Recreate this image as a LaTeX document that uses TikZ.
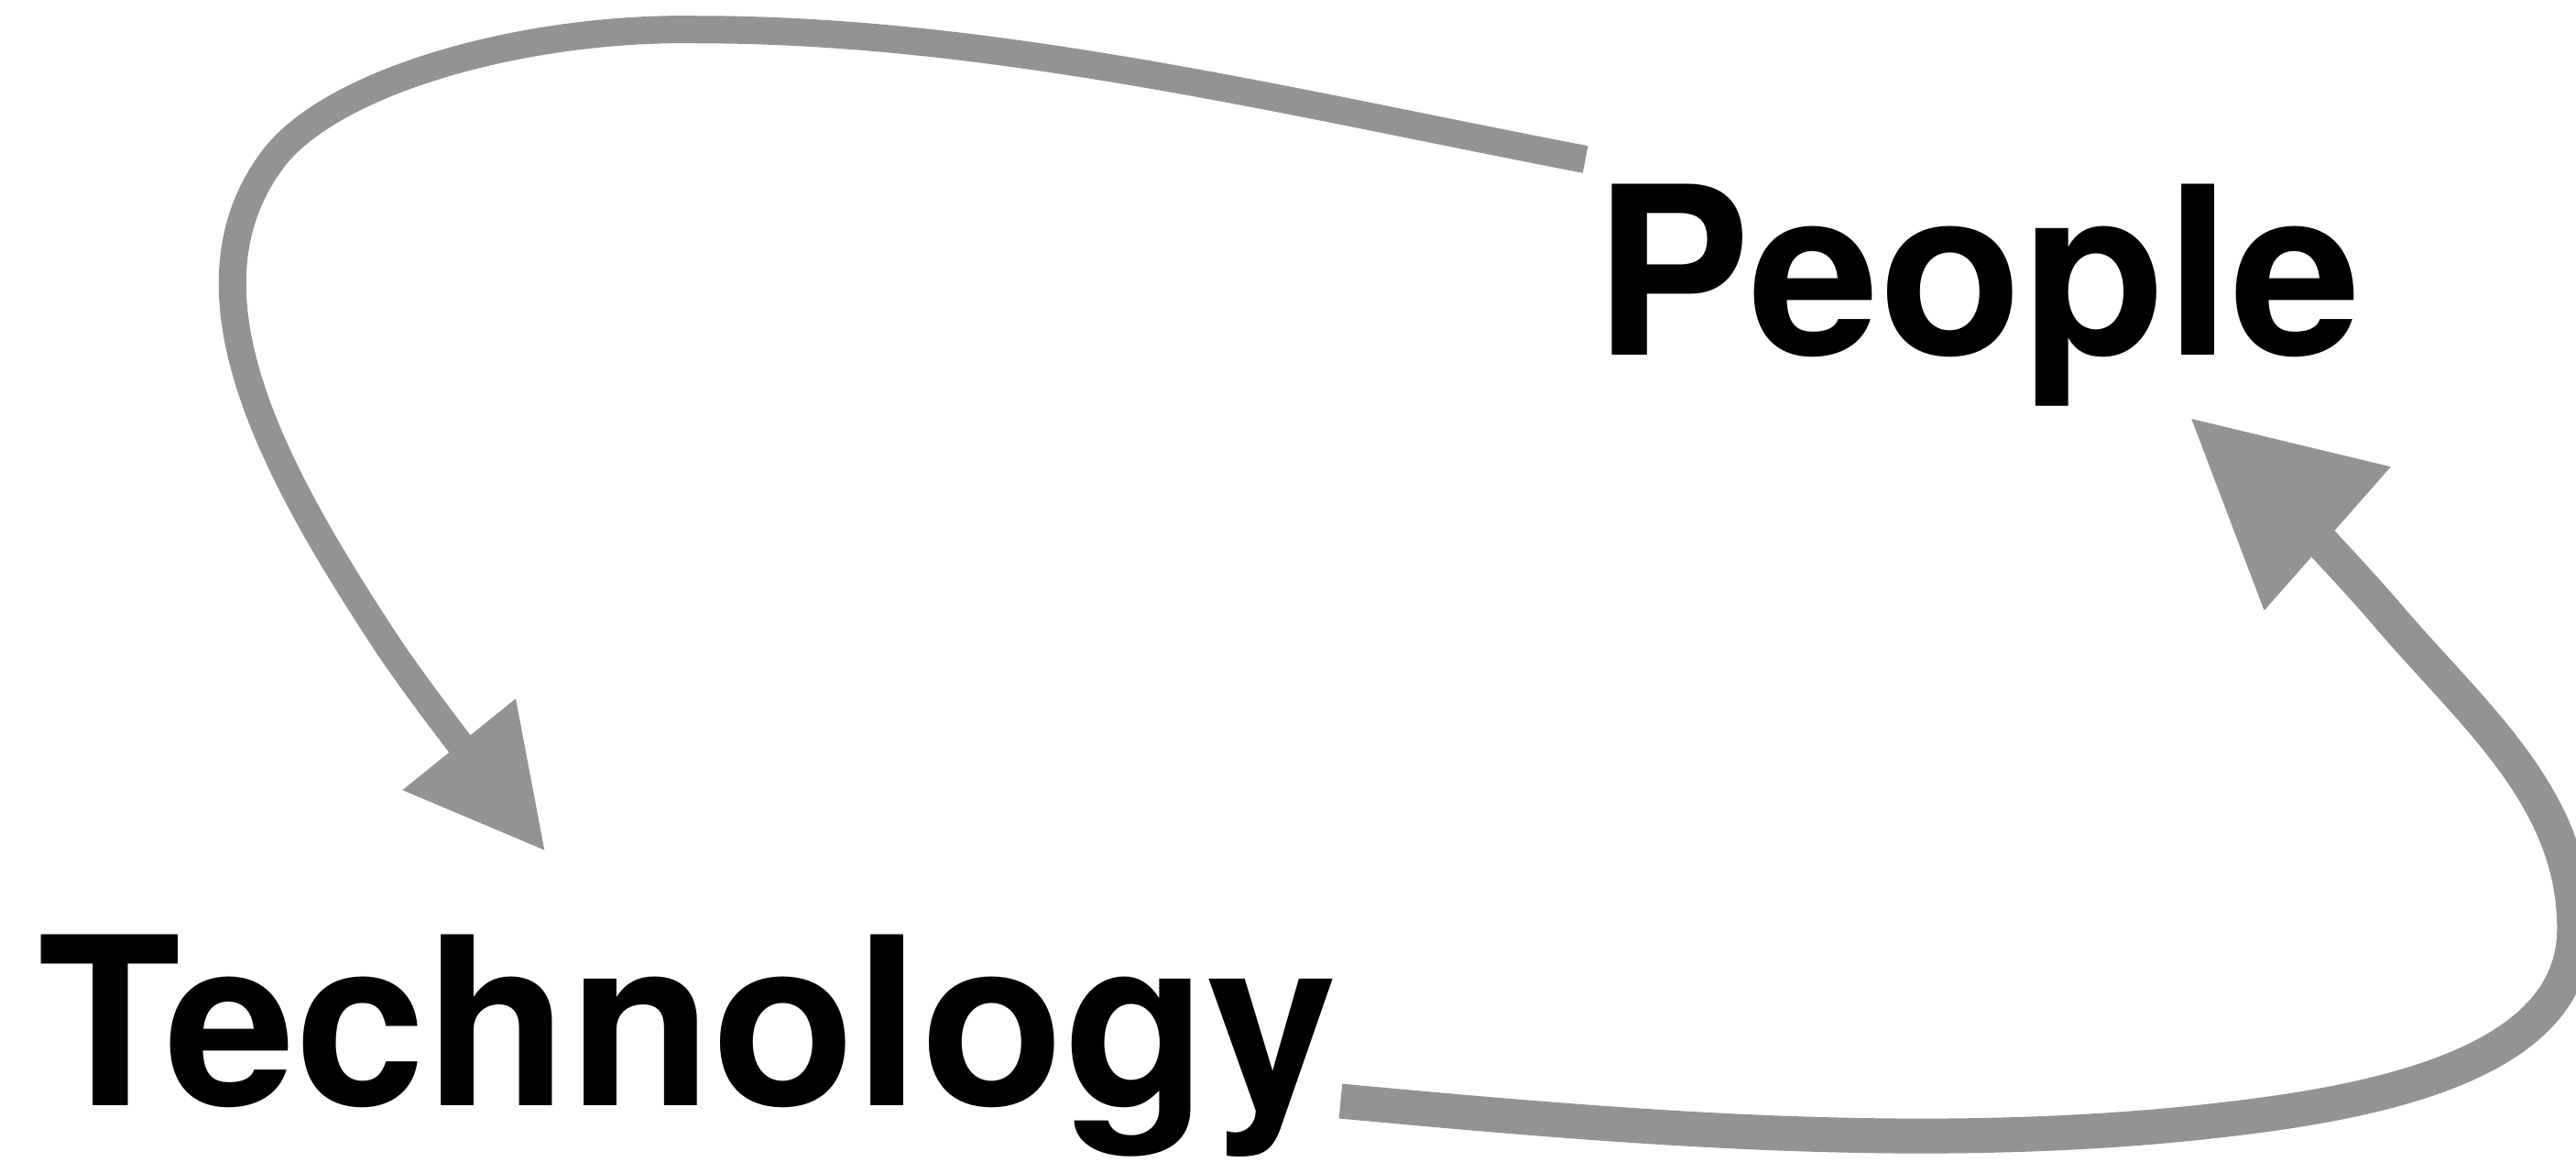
\documentclass[tikz,border=0pt]{standalone}
\usepackage{fontspec}
\usepackage{tikz}
\usetikzlibrary{arrows.meta}
\newfontfamily\wordfont{TeX Gyre Heros}
\definecolor{loopgray}{HTML}{939393}

\begin{document}
\begin{tikzpicture}[
		word/.style={inner sep=0pt,anchor=base west,font=\wordfont\bfseries\fontsize{72.8pt}{80pt}\selectfont},
		loop/.style={draw=loopgray,line width=0.30cm}]
				\useasboundingbox (0,0) rectangle (28.12,12.68);
				\clip (0,0) rectangle (28.12,12.68);
				\node[word] (people) at (17.40,8.805) {People};
				\node[word] (tech) at (0.41,0.61) {Technology};
				% free ends of the two loops
				\coordinate (ptail) at (17.306,10.940);
				\coordinate (thead) at (5.954,3.390);
				\coordinate (ttail) at (14.634,0.664);
				\coordinate (phead) at (23.906,8.124);
				\draw[loop,-{Triangle[length=1.5cm,width=1.5cm]}] (ptail) .. controls (14.132,11.549) and (10.850,12.357) .. (7.622,12.357)
					.. controls (5.739,12.392) and (3.623,11.801) .. (2.977,10.940)
					.. controls (1.901,9.505) and (2.995,7.532) .. (4.179,5.721)
					.. controls (4.573,5.111) and (5.506,3.945) .. (thead);
				\draw[loop,line width=0.38cm,-{Triangle[length=2cm,width=1.98cm]}] (ttail) .. controls (17.934,0.359) and (21.324,0.072) .. (24.605,0.502)
					.. controls (26.560,0.753) and (28.103,1.291) .. (28.103,2.547)
					.. controls (28.103,3.981) and (26.991,4.878) .. (26.058,5.972)
					.. controls (25.475,6.653) and (24.578,7.532) .. (phead);
			\end{tikzpicture}
\end{document}
